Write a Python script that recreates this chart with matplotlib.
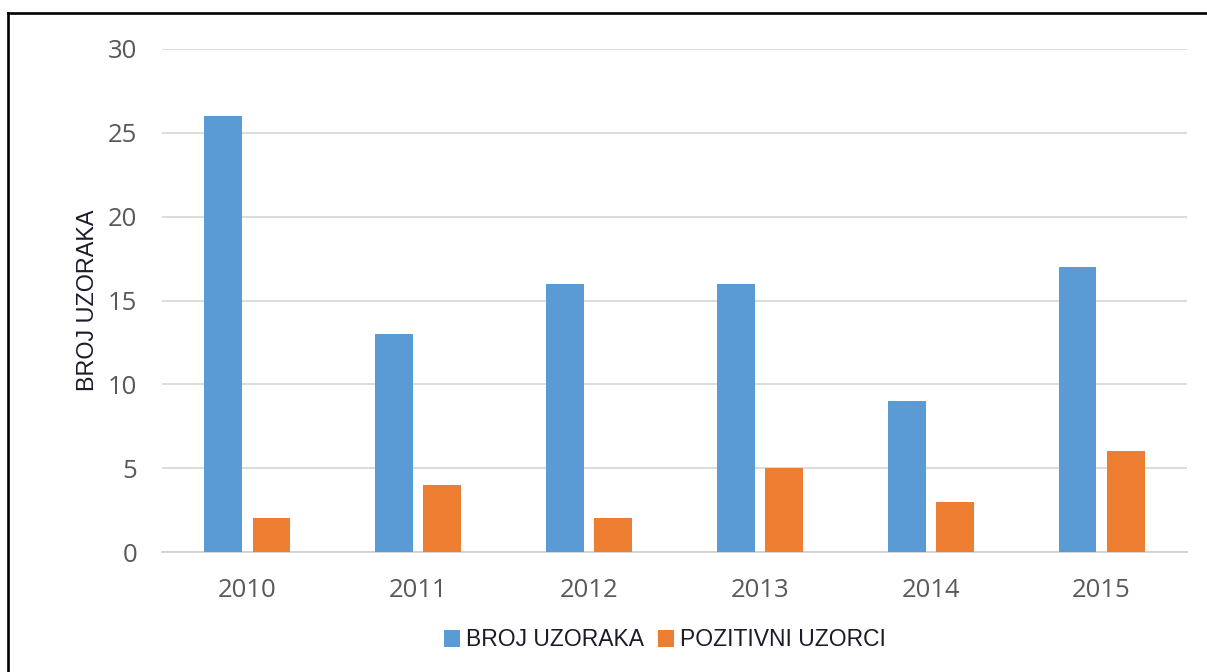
import matplotlib
matplotlib.use("Agg")
import matplotlib.pyplot as plt
from matplotlib.lines import Line2D
import numpy as np

years = ["2010", "2011", "2012", "2013", "2014", "2015"]
broj_uzoraka = [26, 13, 16, 16, 9, 17]
pozitivni_uzorci = [2, 4, 2, 5, 3, 6]
series_names = ["BROJ UZORAKA", "POZITIVNI UZORCI"]
y_ticks = [0, 5, 10, 15, 20, 25, 30]

W, H = 1207, 672
fig = plt.figure(figsize=(W / 100, H / 100), dpi=100)
ax = fig.add_axes([162 / W, 1 - 552 / H, (1187 - 162) / W, (552 - 49) / H])

x = np.arange(len(years))
bw = 0.222
off = 0.141
b1 = ax.bar(x - off, broj_uzoraka, bw, color="#5B9BD5", zorder=3)
b2 = ax.bar(x + off, pozitivni_uzorci, bw, color="#ED7D31", zorder=3)

ax.set_xlim(-0.5, len(years) - 0.5)
ax.set_ylim(0, 30)
ax.set_yticks(y_ticks)
ax.set_xticks(x)
ax.set_xticklabels(years)
ax.yaxis.grid(True, color="#D9D9D9", linewidth=1.3, zorder=0)
ax.set_axisbelow(True)
for s in ["top", "right", "left"]:
    ax.spines[s].set_visible(False)
ax.spines["bottom"].set_color("#D0D0D0")
ax.spines["bottom"].set_linewidth(1.3)
ax.tick_params(axis="both", length=0, colors="#595959", labelsize=18.5)
for lab in ax.get_xticklabels() + ax.get_yticklabels():
    lab.set_fontfamily("Open Sans")
ax.tick_params(axis="x", pad=19)
ax.tick_params(axis="y", pad=18)

ax.set_ylabel("BROJ UZORAKA", fontsize=16.8, fontfamily="Liberation Sans", color="#1a1a2a", labelpad=6)

fig.legend([b1, b2], series_names, loc="center", bbox_to_anchor=(665 / W, 1 - 640 / H), ncol=2,
           frameon=False, handlelength=0.7, handleheight=0.7, handletextpad=0.25,
           columnspacing=0.6, prop={"family": "Liberation Sans", "size": 16.5})
for t in fig.legends[0].get_texts():
    t.set_color("#1a1a2a")

# outer border (left and top visible)
fig.add_artist(Line2D([7.5 / W, 7.5 / W], [-0.1, 1 - 12.5 / H], transform=fig.transFigure, color="black", linewidth=1.9))
fig.add_artist(Line2D([7.5 / W, 1.1], [1 - 12.5 / H, 1 - 12.5 / H], transform=fig.transFigure, color="black", linewidth=1.9))

fig.savefig("out.png", dpi=100)
